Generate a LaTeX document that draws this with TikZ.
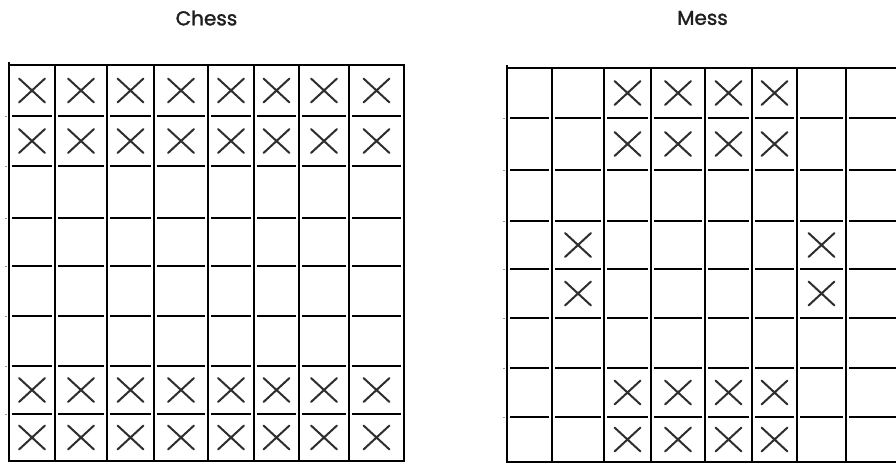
\documentclass[tikz,border=0pt]{standalone}
\usepackage{fontspec}
\setmainfont{Poppins}
\newfontfamily\titlefont{Poppins}[FakeBold=1.6]
\begin{document}
\begin{tikzpicture}[x=1pt,y=-1pt,
  gridline/.style={line width=2.6pt,black},
  crossline/.style={line width=2pt,black!82,line cap=round},
  title/.style={font=\titlefont\fontsize{20}{24}\selectfont,text=black!88}]
\useasboundingbox[fill=white] (0,0) rectangle (896,463);
% titles
\node[title] (chess) at (206.5,18) {Chess};
\node[title] (mess) at (702.5,18) {Mess};
% ---------- left grid ----------
\foreach \x in {9,55,107,154,208,254,299,349,404}
  \draw[gridline] (\x,64) -- (\x,462);
\draw[gridline] (9,62) -- (9,65);
\draw[gridline] (8,65) -- (405,65);
\draw[gridline] (8,461) -- (405,461);
\foreach \y in {116,166,218,266,316,366,414}{
  \foreach \a/\b in {9/55,55/107,107/154,154/208,208/254,254/299,299/349,349/404}
    \draw[gridline] (\a+3,\y) -- (\b-3,\y);
  \draw[line width=1pt,black!40] (5,\y) -- (7,\y);
}
\foreach \cy in {90.5,141,390,437.5}
  \foreach \cx in {32,81,130.5,181,231,276.5,324,376.5}
    \draw[crossline] (\cx-13,\cy-12) -- (\cx+13,\cy+12)
                     (\cx-13,\cy+12) -- (\cx+13,\cy-12);
% ---------- right grid ----------
\foreach \x in {507,552,604,651,705,752,797,846}
  \draw[gridline] (\x,67) -- (\x,463);
\draw[gridline] (507,65) -- (507,68);
\draw[gridline] (506,68) -- (896,68);
\draw[gridline] (506,462) -- (896,462);
\foreach \y in {118,170,221,269,318,368,417}{
  \foreach \a/\b in {507/552,552/604,604/651,651/705,705/752,752/797,797/846,846/902}
    \draw[gridline] (\a+3,\y) -- (\b-3,\y);
  \draw[line width=1pt,black!40] (503,\y) -- (505,\y);
}
\foreach \cy in {93,144,392.5,439.5}
  \foreach \cx in {627.5,678,728.5,774.5}
    \draw[crossline] (\cx-13,\cy-12) -- (\cx+13,\cy+12)
                     (\cx-13,\cy+12) -- (\cx+13,\cy-12);
\foreach \cy in {245,293.5}
  \foreach \cx in {578,821.5}
    \draw[crossline] (\cx-13,\cy-12) -- (\cx+13,\cy+12)
                     (\cx-13,\cy+12) -- (\cx+13,\cy-12);
\end{tikzpicture}
\end{document}
